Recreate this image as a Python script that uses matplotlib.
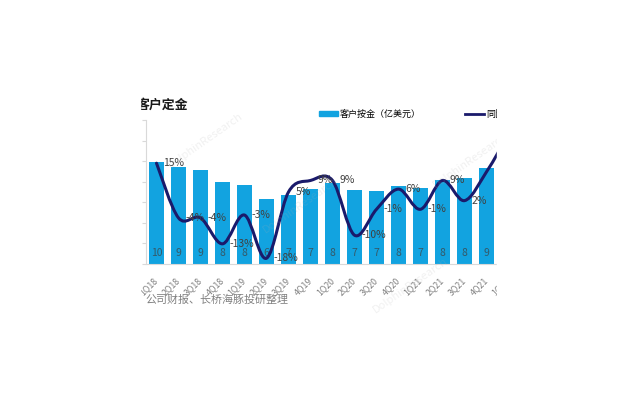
import matplotlib
matplotlib.use('Agg')
import matplotlib.pyplot as plt
import numpy as np
from matplotlib.path import Path
from matplotlib.patches import PathPatch, Rectangle
from matplotlib.lines import Line2D
from matplotlib.transforms import ScaledTranslation

plt.rcParams['font.family'] = ['Noto Sans CJK SC', 'DejaVu Sans']

quarters = ['1Q18', '2Q18', '3Q18', '4Q18', '1Q19', '2Q19', '3Q19', '4Q19',
            '1Q20', '2Q20', '3Q20', '4Q20', '1Q21', '2Q21', '3Q21', '4Q21', '1Q22']
deposits = [9.9, 9.45, 9.1, 8.0, 7.7, 6.3, 6.7, 7.3,
            7.9, 7.2, 7.1, 7.6, 7.4, 8.2, 8.4, 9.3, 10.2]
yoy = [0.15, -0.04, -0.04, -0.13, -0.03, -0.18, 0.05, 0.09,
       0.09, -0.10, -0.01, 0.06, -0.01, 0.09, 0.02, 0.12, 0.25]

bar_color = '#12A3E0'
line_color = '#1A1A6B'
grey = '#D9D9D9'

fig = plt.figure(figsize=(6.4, 4), dpi=100)
ax = fig.add_axes([145.5/640, 136/400, 374/640, 144/400])
x = np.arange(len(quarters))

ax.bar(x, deposits, width=0.68, color=bar_color, zorder=2)
ax.set_xlim(-0.5, len(quarters) - 0.5)
ax.set_ylim(0, 14)
ax.set_yticks(np.arange(0, 15, 2))
ax.set_yticklabels([])
ax.tick_params(axis='y', length=3, color=grey)
ax.tick_params(axis='x', length=0, pad=4)
for s in ['top', 'right']:
    ax.spines[s].set_visible(False)
ax.spines['left'].set_color(grey)
ax.spines['bottom'].set_color(grey)
ax.set_xticks(x)
ax.set_xticklabels(quarters, rotation=45, ha='right', va='center',
                   rotation_mode='anchor', fontsize=6.3, color='#808080')
for lab in ax.get_xticklabels():
    lab.set_transform(lab.get_transform() + ScaledTranslation(0, -6.5/72, fig.dpi_scale_trans))

for xi, v in zip(x, deposits):
    ax.text(xi, 1.05, f'{v:.0f}', ha='center', va='center', fontsize=7.5,
            color='#404040', alpha=0.75, zorder=3)

ax2 = ax.twinx()
ax2.set_ylim(-0.2, 0.3)
ax2.set_axis_off()

# smoothed line (Excel-style bezier through the points)
pts = np.column_stack([x, yoy]).astype(float)
n = len(pts)
verts = [pts[0]]
codes = [Path.MOVETO]
for i in range(n - 1):
    p_prev = pts[max(i - 1, 0)]
    p_next2 = pts[min(i + 2, n - 1)]
    c1 = pts[i] + (pts[i + 1] - p_prev) / 6
    c2 = pts[i + 1] - (p_next2 - pts[i]) / 6
    verts += [c1, c2, pts[i + 1]]
    codes += [Path.CURVE4] * 3
ax2.add_patch(PathPatch(Path(verts, codes), fill=False, edgecolor=line_color,
                        lw=2.2, zorder=4, capstyle='round', joinstyle='round'))

# labels of the last two points fall outside the cropped view
for xi, v in zip(x[:-2], yoy[:-2]):
    ax2.annotate(f'{v:.0%}', (xi, v), xytext=(5, 0), textcoords='offset points',
                 ha='left', va='center', fontsize=7.5, color='#404040', zorder=5)

h_bar = Rectangle((0, 0), 1, 1, color=bar_color)
h_line = Line2D([], [], color=line_color, lw=2)
fig.legend([h_bar, h_line], ['客户按金（亿美元）', '同比'], loc='center left',
           bbox_to_anchor=(319/640, 1 - 114/400), ncol=2, frameon=False,
           fontsize=6.5, handlelength=2.1, handleheight=0.45, handletextpad=0.2,
           columnspacing=4.9, borderaxespad=0, borderpad=0)

fig.text(137/640, 1 - 105/400, '客户定金', fontsize=9.3, fontweight='bold',
         va='center', ha='left', color='#1A1A1A')
fig.text(145/640, 1 - 300/400, '公司财报、长桥海豚投研整理', fontsize=7.9,
         va='center', ha='left', color='#808080')

# faint watermark
for wx, wy in [(205, 140), (470, 160), (300, 205), (410, 285)]:
    fig.text(wx/640, 1 - wy/400, 'DolphinResearch', fontsize=8, rotation=35,
             color='#B0B0B0', alpha=0.18, ha='center', va='center', zorder=6)

# crop edges like the reference
fig.add_artist(Rectangle((0, 0), 140/640, 1, transform=fig.transFigure,
                         color='white', zorder=20))
fig.add_artist(Rectangle((497/640, 0), 1, 1, transform=fig.transFigure,
                         color='white', zorder=20))

fig.savefig('out.png', dpi=100)
